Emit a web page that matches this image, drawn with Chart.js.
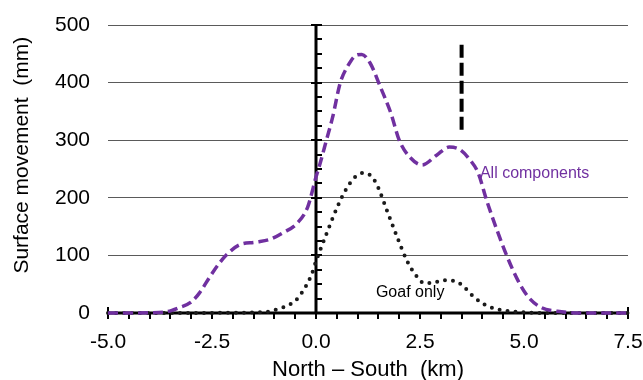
<!DOCTYPE html>
<html>
<head>
<meta charset="utf-8">
<style>
  html, body { margin: 0; padding: 0; background: #fff; }
  #wrap { width: 643px; height: 380px; position: relative; }
</style>
<script src="https://cdn.jsdelivr.net/npm/chart.js@4/dist/chart.umd.min.js"></script>
</head>
<body>
<div id="wrap"><canvas id="chart"></canvas></div>
<script>
(function() {
  'use strict';

  var PURPLE = '#7030a0', DOTS = '#1a1a1a', BLACK = '#000000', GRID = '#5a5a5a';
  var FONT = '"Liberation Sans", Arial, sans-serif';

  // All components (purple dashed)
  var allX = [-5, -4.5, -4, -3.6, -3.3, -3.0, -2.8, -2.55, -2.35, -2.15, -1.85, -1.45, -1.1, -0.8, -0.45, -0.2, 0, 0.1, 0.25, 0.4, 0.58, 0.75, 0.98, 1.1, 1.3, 1.55, 1.8, 2.0, 2.25, 2.55, 2.9, 3.2, 3.45, 3.7, 3.9, 4.1, 4.35, 4.6, 4.85, 5.1, 5.4, 5.8, 6.5, 7.5];
  var allY = [0, 0, 0.5, 2, 9, 19, 35, 63, 84, 101, 118, 123, 128, 139, 156, 184, 236, 260, 300, 340, 399, 427, 448, 449, 434, 392, 347, 300, 271, 257, 274, 288, 284, 266, 243, 196, 144, 97, 57, 28, 10, 3, 0, 0];

  // Goaf only (black dotted)
  var goafX = [-5, -4, -3, -2, -1.5, -1.1, -0.87, -0.67, -0.46, -0.24, -0.1, 0, 0.1, 0.26, 0.5, 0.7, 0.94, 1.13, 1.35, 1.5, 1.7, 1.95, 2.2, 2.43, 2.6, 2.8, 3.05, 3.3, 3.5, 3.75, 3.95, 4.2, 4.45, 4.85, 5.5, 7.5];
  var goafY = [0, 0, 0, 0.5, 1, 3, 8, 13, 24, 47, 68, 90, 109, 139, 182, 212, 236, 243, 236, 217, 179, 132, 89, 63, 52, 52, 57, 56, 49, 31, 19, 10, 5, 2, 0, 0];

  // vertical marker (black dashed)
  var markX = [3.5, 3.5];
  var markY = [318, 470];

  var X_TICKS = [-5, -2.5, 0, 2.5, 5, 7.5];
  var Y_TICKS = [0, 100, 200, 300, 400, 500];
  var Y_TITLE = 'Surface movement  (mm)';

  var LABELS = [
    { text: 'All components', x: 3.94, y: 234, color: PURPLE },
    { text: 'Goaf only', x: 1.44, y: 28, color: BLACK }
  ];

  function pts(xs, ys) { return xs.map(function(x, i) { return { x: x, y: ys[i] }; }); }

  var axesPlugin = {
    id: 'axesAtZero',
    beforeDatasetsDraw: function(chart) {
      var ctx = chart.ctx, xs = chart.scales.x, ys = chart.scales.y;
      var x0 = xs.getPixelForValue(0), y0 = ys.getPixelForValue(0);
      var v, p;
      ctx.save();
      ctx.strokeStyle = BLACK;
      // horizontal axis
      ctx.lineWidth = 3;
      ctx.beginPath();
      ctx.moveTo(xs.getPixelForValue(xs.min) - 1, y0);
      ctx.lineTo(xs.getPixelForValue(xs.max) + 1, y0);
      ctx.stroke();
      ctx.lineWidth = 2;
      for (v = xs.min; v <= xs.max + 1e-9; v += 0.5) {
        p = Math.round(xs.getPixelForValue(v));
        var edge = (v === xs.min || Math.abs(v - xs.max) < 1e-9);
        ctx.beginPath();
        ctx.moveTo(p, y0 - (edge ? 6 : 0));
        ctx.lineTo(p, y0 + 6);
        ctx.stroke();
      }
      // vertical axis at x = 0
      ctx.lineWidth = 3;
      ctx.beginPath();
      ctx.moveTo(x0, ys.getPixelForValue(ys.min));
      ctx.lineTo(x0, ys.getPixelForValue(ys.max) - 1);
      ctx.stroke();
      ctx.lineWidth = 2;
      for (v = ys.min + 25; v <= ys.max; v += 25) {
        p = Math.round(ys.getPixelForValue(v));
        ctx.beginPath();
        ctx.moveTo(x0 - (v % 100 === 0 ? 5 : 0), p);
        ctx.lineTo(x0 + 6, p);
        ctx.stroke();
      }
      ctx.restore();
    },
    afterDatasetsDraw: function(chart) {
      var ctx = chart.ctx, xs = chart.scales.x, ys = chart.scales.y;
      ctx.save();
      ctx.font = '16px ' + FONT;
      ctx.textBaseline = 'alphabetic';
      ctx.textAlign = 'left';
      LABELS.forEach(function(l) {
        ctx.fillStyle = l.color;
        ctx.fillText(l.text, xs.getPixelForValue(l.x), ys.getPixelForValue(l.y));
      });
      // y title, sits a little above the middle of the axis
      ctx.font = '21px ' + FONT;
      ctx.fillStyle = BLACK;
      ctx.textAlign = 'center';
      ctx.textBaseline = 'middle';
      ctx.translate(22, ys.getPixelForValue(274));
      ctx.rotate(-Math.PI / 2);
      ctx.fillText(Y_TITLE, 0, 0);
      ctx.restore();
    }
  };

  Chart.defaults.font.family = FONT;
  Chart.defaults.color = BLACK;

  new Chart(document.getElementById('chart'), {
    type: 'line',
    data: { datasets: [
      { label: 'All components', data: pts(allX, allY), borderColor: PURPLE, borderWidth: 3.5, borderDash: [10, 5], pointRadius: 0, cubicInterpolationMode: 'monotone', fill: false, clip: 6 },
      { label: 'Goaf only', data: pts(goafX, goafY), borderColor: DOTS, borderWidth: 4, borderDash: [0, 8], borderCapStyle: 'round', pointRadius: 0, cubicInterpolationMode: 'monotone', fill: false, clip: 6 },
      { label: 'marker', data: pts(markX, markY), borderColor: BLACK, borderWidth: 4, borderDash: [13, 5], pointRadius: 0, fill: false }
    ]},
    options: {
      responsive: true, maintainAspectRatio: false, animation: false,
      layout: { padding: { left: 0, right: 0, top: 0, bottom: -3 } },
      plugins: { legend: { display: false }, tooltip: { enabled: false } },
      scales: {
        x: {
          type: 'linear', min: -5, max: 7.5,
          afterBuildTicks: function(s) { s.ticks = X_TICKS.map(function(v) { return { value: v }; }); },
          afterFit: function(s) { s.height = 70; s.paddingLeft = 0; s.paddingRight = 15; },
          ticks: { font: { size: 21 }, color: BLACK, padding: 17, maxRotation: 0, autoSkip: false, callback: function(v) { return Number(v).toFixed(1); } },
          grid: { display: false, drawTicks: false },
          border: { display: false },
          title: { display: true, text: 'North \u2013 South  (km)', font: { size: 22 }, color: BLACK, padding: { top: 0, bottom: 0 } }
        },
        y: {
          type: 'linear', min: 0, max: 500,
          afterBuildTicks: function(s) { s.ticks = Y_TICKS.map(function(v) { return { value: v }; }); },
          afterFit: function(s) { s.width = 108; s.paddingTop = 25; s.paddingBottom = 0; },
          ticks: { font: { size: 21 }, color: BLACK, padding: 18 },
          grid: { color: GRID, lineWidth: 1, drawTicks: false },
          border: { display: false },
          title: { display: false }
        }
      }
    },
    plugins: [axesPlugin]
  });
})();
</script>
</body>
</html>
